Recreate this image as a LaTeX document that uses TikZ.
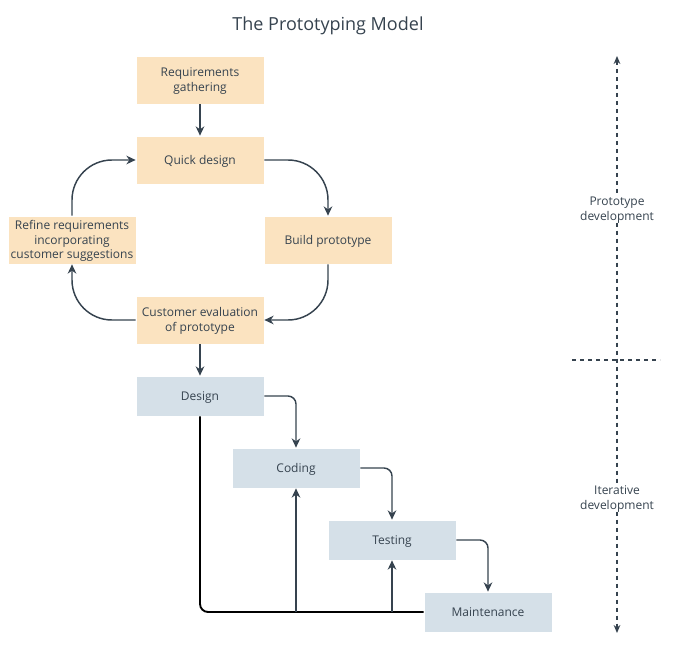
\documentclass[tikz,border=0pt]{standalone}
\usepackage{fontspec}
\setmainfont{Open Sans}
\usetikzlibrary{arrows.meta}
\definecolor{peach}{HTML}{FBE3C0}
\definecolor{bluegray}{HTML}{D5E0E8}
\definecolor{ink}{HTML}{36434F}
\begin{document}
\begin{tikzpicture}[x=0.75pt,y=-0.75pt,
  every node/.style={text=ink,font=\fontsize{9}{11}\selectfont},
  protobox/.style={fill=peach,draw=white,line width=0.5pt,minimum width=96pt,minimum height=36pt,align=center,inner sep=1pt,text depth=0.5pt},
  iterbox/.style={fill=bluegray,draw=white,line width=0.5pt,minimum width=96pt,minimum height=30pt,align=center,inner sep=1pt,text depth=0.5pt},
  conn/.style={draw=ink,line width=1.1pt,-{Stealth[length=7pt,width=6.5pt]}},
  feed/.style={draw=ink,line width=1.1pt},
  axis/.style={draw=ink,line width=0.9pt,dash pattern=on 3pt off 3pt}]
\useasboundingbox (0,0) rectangle (675,648);
\node[font=\fontsize{13.5}{16}\selectfont] (title) at (328,26) {The Prototyping Model};
\node[protobox] (req) at (200,80) {Requirements\\gathering};
\node[protobox] (qd) at (200,160) {Quick design};
\node[protobox] (bp) at (328,240) {Build prototype};
\node[protobox] (ref) at (72,240) {Refine requirements\\incorporating\\customer suggestions};
\node[protobox] (ce) at (200,320) {Customer evaluation\\of prototype};
\node[iterbox] (des) at (200,396) {Design};
\node[iterbox] (cod) at (296,468) {Coding};
\node[iterbox] (tes) at (392,540) {Testing};
\node[iterbox] (mai) at (488,612) {Maintenance};
% prototype loop
\draw[conn] (req) -- (qd);
\draw[conn,rounded corners=30pt] (qd.east) -| (bp.north);
\draw[conn,rounded corners=30pt] (bp.south) |- (ce.east);
\draw[conn,rounded corners=30pt] (ce.west) -| (ref.south);
\draw[conn,rounded corners=30pt] (ref.north) |- (qd.west);
\draw[conn] (ce) -- (des);
% waterfall
\draw[conn,rounded corners=6pt] (des.east) -| (cod.north);
\draw[conn,rounded corners=6pt] (cod.east) -| (tes.north);
\draw[conn,rounded corners=6pt] (tes.east) -| (mai.north);
% feedback
\coordinate (fc) at (296,612);
\coordinate (ft) at (392,612);
\draw[feed,draw=black,line width=1.4pt,rounded corners=6pt] (mai.west) -- (200,612) -- (des.south);
\draw[conn] (fc) -- (cod.south);
\draw[conn] (ft) -- (tes.south);
% right axis
\coordinate (atop) at (617,56);
\coordinate (abot) at (617,633);
\coordinate (hl) at (572,360);
\coordinate (hr) at (660,360);
\node[fill=white,inner sep=1pt,align=center,text depth=0.5pt] (pd) at (617,209) {Prototype\\development};
\node[fill=white,inner sep=1pt,align=center,text depth=0.5pt] (id) at (617,498) {Iterative\\development};
\draw[axis,{Stealth[length=6pt,width=5pt]}-] (atop) -- (pd.north);
\draw[axis] (pd.south) -- (id.north);
\draw[axis,-{Stealth[length=6pt,width=5pt]}] (id.south) -- (abot);
\draw[axis] (hl) -- (hr);
\end{tikzpicture}
\end{document}
